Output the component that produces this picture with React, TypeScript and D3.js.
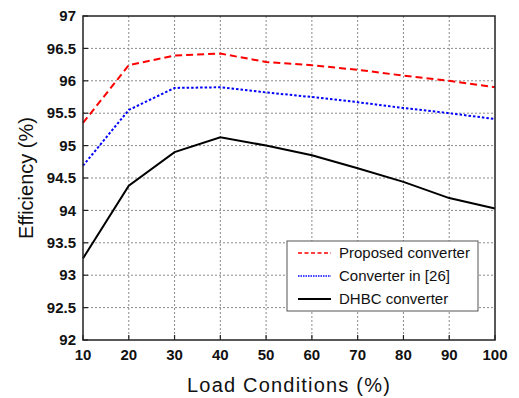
import { useEffect, useRef } from 'react'
import * as d3 from 'd3'

const loads = [10, 20, 30, 40, 50, 60, 70, 80, 90, 100]
const proposed = [95.35, 96.24, 96.39, 96.42, 96.29, 96.24, 96.17, 96.08, 96.0, 95.9]
const conv26 = [94.69, 95.55, 95.89, 95.9, 95.82, 95.75, 95.67, 95.58, 95.5, 95.41]
const dhbc = [93.26, 94.38, 94.9, 95.13, 95.0, 94.85, 94.65, 94.44, 94.19, 94.03]
const yTicks = [92, 92.5, 93, 93.5, 94, 94.5, 95, 95.5, 96, 96.5, 97]

const series = [
  { name: 'Proposed converter', values: proposed, color: '#ff0000', dash: '7,4', width: 2 },
  { name: 'Converter in [26]', values: conv26, color: '#0000ff', dash: '2.5,2', width: 2 },
  { name: 'DHBC converter', values: dhbc, color: '#000000', dash: null, width: 2 },
]

export default function App() {
  const svgRef = useRef<SVGSVGElement | null>(null)

  useEffect(() => {
    if (!svgRef.current) return
    const svg = d3.select(svgRef.current)
    svg.selectAll('*').remove()

    const left = 83, right = 495, top = 16, bottom = 340
    const x = d3.scaleLinear().domain([10, 100]).range([left, right])
    const y = d3.scaleLinear().domain([92, 97]).range([bottom, top])
    const font = 'Liberation Sans, Arial, sans-serif'

    svg.append('rect').attr('width', 519).attr('height', 398).attr('fill', '#fff')

    // grid
    const grid = svg.append('g').attr('stroke', '#8a8a8a').attr('stroke-width', 1).attr('stroke-dasharray', '2,2')
    loads.slice(1, -1).forEach(v => {
      grid.append('line').attr('x1', x(v)).attr('x2', x(v)).attr('y1', top).attr('y2', bottom)
    })
    yTicks.slice(1, -1).forEach(v => {
      grid.append('line').attr('x1', left).attr('x2', right).attr('y1', y(v)).attr('y2', y(v))
    })

    // lines
    const line = d3.line<number>().x((_, i) => x(loads[i])).y(d => y(d))
    series.forEach(s => {
      svg.append('path')
        .datum(s.values)
        .attr('d', line)
        .attr('fill', 'none')
        .attr('stroke', s.color)
        .attr('stroke-width', s.width)
        .attr('stroke-dasharray', s.dash)
    })

    // frame
    svg.append('rect')
      .attr('x', left).attr('y', top).attr('width', right - left).attr('height', bottom - top)
      .attr('fill', 'none').attr('stroke', '#222').attr('stroke-width', 1.5)

    // ticks
    const ticks = svg.append('g').attr('stroke', '#222').attr('stroke-width', 1.2)
    loads.forEach(v => {
      ticks.append('line').attr('x1', x(v)).attr('x2', x(v)).attr('y1', bottom).attr('y2', bottom - 5)
    })
    yTicks.forEach(v => {
      ticks.append('line').attr('x1', left).attr('x2', left + 5).attr('y1', y(v)).attr('y2', y(v))
    })

    // tick labels
    svg.append('g').selectAll('text').data(yTicks).join('text')
      .attr('x', left - 7).attr('y', d => y(d)).attr('dy', '0.35em')
      .attr('text-anchor', 'end').attr('font-family', font).attr('font-weight', 'bold')
      .attr('font-size', 15).attr('fill', '#111')
      .text(d => String(d))
    svg.append('g').selectAll('text').data(loads).join('text')
      .attr('x', d => x(d)).attr('y', bottom + 20)
      .attr('text-anchor', 'middle').attr('font-family', font).attr('font-weight', 'bold')
      .attr('font-size', 15).attr('fill', '#111')
      .text(d => String(d))

    // axis titles
    svg.append('text')
      .attr('x', (left + right) / 2).attr('y', 392)
      .attr('text-anchor', 'middle').attr('font-family', font).attr('font-size', 20)
      .attr('letter-spacing', 1.2).attr('fill', '#111')
      .text('Load Conditions (%)')
    svg.append('text')
      .attr('transform', `translate(33,${(top + bottom) / 2}) rotate(-90)`)
      .attr('text-anchor', 'middle').attr('font-family', font).attr('font-size', 20).attr('fill', '#111')
      .text('Efficiency (%)')

    // legend
    const lg = svg.append('g')
    lg.append('rect')
      .attr('x', 287).attr('y', 241).attr('width', 191).attr('height', 70)
      .attr('fill', '#fff').attr('stroke', '#555').attr('stroke-width', 1)
    series.forEach((s, i) => {
      const ly = 253 + i * 23
      lg.append('line')
        .attr('x1', 298).attr('x2', 331).attr('y1', ly).attr('y2', ly)
        .attr('stroke', s.color).attr('stroke-width', s.dash ? 1.3 : 1.8)
        .attr('stroke-dasharray', s.dash ? (i === 0 ? '4,2.5' : '1.5,1') : null)
      lg.append('text')
        .attr('x', 339).attr('y', ly).attr('dy', '0.35em')
        .attr('font-family', font).attr('font-size', 15).attr('fill', '#111')
        .text(s.name)
    })
  }, [])

  return (
    <svg ref={svgRef} width={519} height={398}
      style={{ position: 'absolute', left: 0, top: 0, display: 'block' }} />
  )
}
